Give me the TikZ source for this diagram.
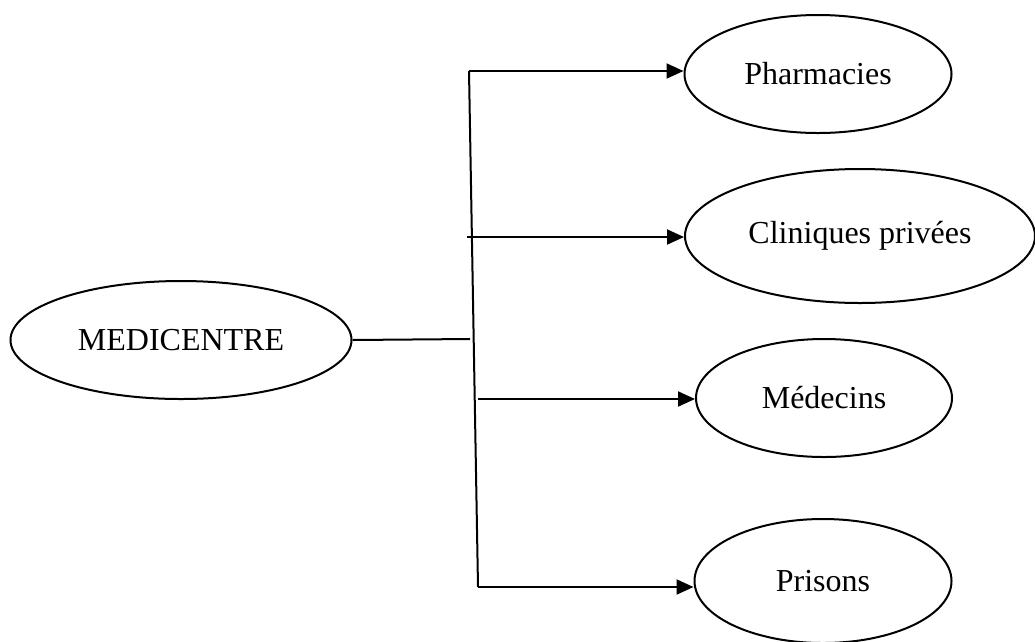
\documentclass[tikz,border=0pt]{standalone}
\usepackage{fontspec}
\setmainfont{Liberation Serif}
\usetikzlibrary{shapes.geometric,arrows.meta,positioning}

\begin{document}
\begin{tikzpicture}[
x=1pt, y=-1pt,
element/.style={ellipse, draw, line width=2pt, inner sep=0pt, font=\fontsize{32}{38}\selectfont},
arrow/.style={-{Triangle[length=17pt,width=15pt]}, line width=2pt},
link/.style={line width=2pt},
]
\useasboundingbox (0,0) rectangle (1035,641);

\node[element, minimum width=341pt, minimum height=118pt] (medic) at (181,340) {MEDICENTRE};

\node[element, minimum width=267pt, minimum height=118pt] (pharma) at (818,74) {Pharmacies};
\node[element, minimum width=350pt, minimum height=134pt] (clinic) at (860,236) {Cliniques privées};
\node[element, minimum width=256pt, minimum height=118pt] (doctor) at (824,398) {Médecins};
\node[element, minimum width=257pt, minimum height=124pt] (prison) at (823,581) {Prisons};

\coordinate (join) at (470,339);
\coordinate (top) at (469,71);
\coordinate (bottom) at (478,587);
\coordinate (cli) at (467,237);
\coordinate (med) at (478,399);

\draw[link] (medic.east) -- (join);
\draw[link] (top) -- (bottom);

\draw[arrow] (top) -- (top -| pharma.west);
\draw[arrow] (cli) -- (cli -| clinic.west);
\draw[arrow] (med) -- (med -| doctor.west);
\draw[arrow] (bottom) -- (bottom -| prison.west);

\end{tikzpicture}
\end{document}
